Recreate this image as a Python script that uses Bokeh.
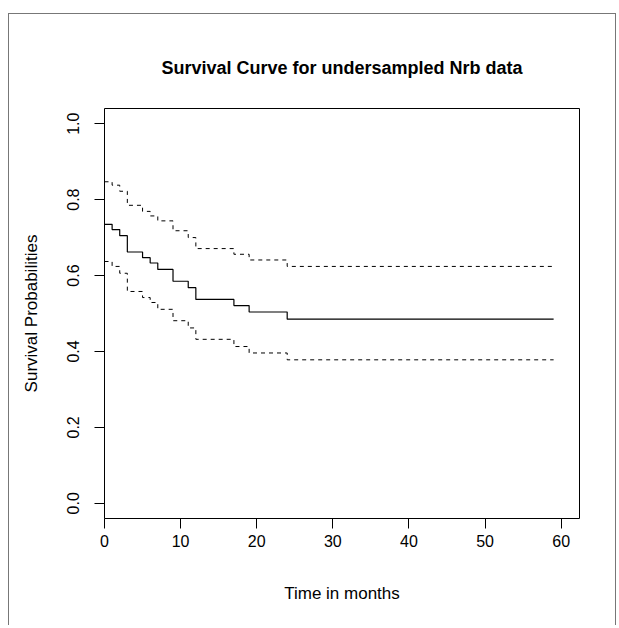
from bokeh.plotting import figure
from bokeh.models import FixedTicker, Range1d, PrintfTickFormatter
from bokeh.embed import file_html
from bokeh.resources import INLINE

# Kaplan-Meier estimate and 95% confidence band
times = [0, 1, 2, 3, 5, 6, 7, 9, 11, 12, 17, 19, 24, 59]
surv = [0.735, 0.721, 0.705, 0.662, 0.647, 0.633, 0.616, 0.585, 0.568, 0.537, 0.521, 0.504, 0.485, 0.485]
upper = [0.847, 0.838, 0.822, 0.785, 0.769, 0.757, 0.744, 0.718, 0.700, 0.671, 0.656, 0.641, 0.624, 0.624]
lower = [0.637, 0.624, 0.606, 0.558, 0.542, 0.529, 0.511, 0.481, 0.462, 0.432, 0.413, 0.396, 0.378, 0.378]

x_ticks = [0, 10, 20, 30, 40, 50, 60]
y_ticks = [0.0, 0.2, 0.4, 0.6, 0.8, 1.0]
title_text = "Survival Curve for undersampled Nrb data"

FONT = "Liberation Sans"

p = figure(
    width=608, height=612,
    x_range=Range1d(0, 62.4), y_range=Range1d(-0.04, 1.04),
    output_backend="svg", toolbar_location=None,
    min_border_left=95, min_border_right=38,
    min_border_top=94, min_border_bottom=108,
    title=title_text,
    margin=(13, 0, 0, 8),
    styles={"border-top": "1px solid #777777",
            "border-left": "1px solid #777777",
            "border-right": "1px solid #777777"},
)

p.title.align = "center"
p.title.text_font = FONT
p.title.text_font_size = "18px"
p.title.text_font_style = "bold"
p.title.text_color = "black"
p.title.standoff = 62

p.grid.visible = False
p.outline_line_color = "black"
p.outline_line_width = 1
p.background_fill_color = "white"
p.border_fill_color = "white"

for ax in (p.xaxis[0], p.yaxis[0]):
    ax.axis_line_color = None
    ax.major_tick_in = 0
    ax.major_tick_out = 10
    ax.major_tick_line_color = "black"
    ax.minor_tick_line_color = None
    ax.major_label_text_font = FONT
    ax.major_label_text_font_size = "16px"
    ax.major_label_text_color = "black"
    ax.axis_label_text_font = FONT
    ax.axis_label_text_font_size = "17px"
    ax.axis_label_text_font_style = "normal"
    ax.axis_label_text_color = "black"

p.xaxis.ticker = FixedTicker(ticks=x_ticks)
p.yaxis.ticker = FixedTicker(ticks=y_ticks)
p.yaxis.formatter = PrintfTickFormatter(format="%.1f")
p.yaxis.major_label_orientation = "vertical"
p.xaxis.axis_label = "Time in months"
p.yaxis.axis_label = "Survival Probabilities"
p.xaxis.major_label_standoff = 6
p.xaxis.axis_label_standoff = 34
p.yaxis.major_label_standoff = 15
p.yaxis.axis_label_standoff = 24

p.step(times, surv, mode="after", line_color="black", line_width=1.2)
p.step(times, upper, mode="after", line_color="black", line_width=1, line_dash="4 4")
p.step(times, lower, mode="after", line_color="black", line_width=1, line_dash="4 4")

open("out.html", "w").write(file_html(p, INLINE))
